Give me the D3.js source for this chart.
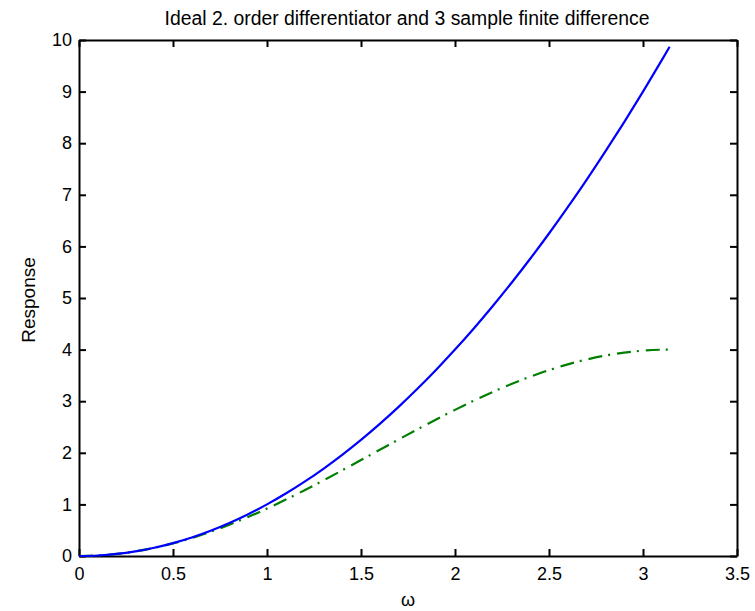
<!DOCTYPE html>
<html>
<head>
<meta charset="utf-8">
<script src="https://cdn.jsdelivr.net/npm/d3@7"></script>
<style>
  html, body { margin: 0; padding: 0; background: #fff; }
  svg text { font-family: "Liberation Sans", Arial, Helvetica, sans-serif; fill: #000; }
</style>
</head>
<body>
<svg id="chart" width="755" height="611"></svg>
<script>
// Frequency samples (rad/sample)
const omega = [0, 0.1, 0.2, 0.3, 0.4, 0.5, 0.6, 0.7, 0.8, 0.9, 1.0, 1.1, 1.2, 1.3, 1.4, 1.5,
  1.6, 1.7, 1.8, 1.9, 2.0, 2.1, 2.2, 2.3, 2.4, 2.5, 2.6, 2.7, 2.8, 2.9, 3.0, 3.1, 3.1416];
// Ideal second-order differentiator magnitude
const idealResponse = [0, 0.01, 0.04, 0.09, 0.16, 0.25, 0.36, 0.49, 0.64, 0.81, 1.00, 1.21,
  1.44, 1.69, 1.96, 2.25, 2.56, 2.89, 3.24, 3.61, 4.00, 4.41, 4.84, 5.29, 5.76, 6.25, 6.76,
  7.29, 7.84, 8.41, 9.00, 9.61, 9.87];
// Three-sample finite difference magnitude
const finiteDiffResponse = [0, 0.01, 0.04, 0.089, 0.158, 0.245, 0.349, 0.470, 0.607, 0.757,
  0.919, 1.093, 1.275, 1.465, 1.660, 1.859, 2.058, 2.258, 2.454, 2.647, 2.832, 3.010, 3.177,
  3.333, 3.475, 3.602, 3.714, 3.808, 3.885, 3.942, 3.980, 3.998, 4.0];

const xTicks = [0, 0.5, 1, 1.5, 2, 2.5, 3, 3.5];
const yTicks = [0, 1, 2, 3, 4, 5, 6, 7, 8, 9, 10];

const titleText = "Ideal 2. order differentiator and 3 sample finite difference";
const xLabel = "\u03c9";
const yLabel = "Response";

const margin = { left: 79, right: 18, top: 40, bottom: 55 };
const W = 755, H = 611;
const svg = d3.select("#chart");

const x = d3.scaleLinear().domain([0, 3.5]).range([margin.left, W - margin.right]);
const y = d3.scaleLinear().domain([0, 10]).range([H - margin.bottom, margin.top]);

const fmt = d => String(d);
const tickLen = 7;

// Axes with inward ticks on all four sides
const gx = svg.append("g").attr("transform", `translate(0,${y(0)})`)
  .call(d3.axisBottom(x).tickValues(xTicks).tickFormat(fmt).tickSizeInner(-tickLen).tickSizeOuter(0).tickPadding(11));
const gxTop = svg.append("g").attr("transform", `translate(0,${y(10)})`)
  .call(d3.axisTop(x).tickValues(xTicks).tickFormat("").tickSizeInner(-tickLen).tickSizeOuter(0));
const gy = svg.append("g").attr("transform", `translate(${x(0)},0)`)
  .call(d3.axisLeft(y).tickValues(yTicks).tickFormat(fmt).tickSizeInner(-tickLen).tickSizeOuter(0).tickPadding(7));
const gyRight = svg.append("g").attr("transform", `translate(${x(3.5)},0)`)
  .call(d3.axisRight(y).tickValues(yTicks).tickFormat("").tickSizeInner(-tickLen).tickSizeOuter(0));

[gx, gxTop, gy, gyRight].forEach(g => {
  g.select(".domain").attr("stroke", "#000").attr("stroke-width", 2);
  g.selectAll(".tick line").attr("stroke", "#000").attr("stroke-width", 2);
  g.selectAll(".tick text").attr("font-size", 18).attr("fill", "#000")
    .style("font-family", '"Liberation Sans", Arial, sans-serif');
});
gx.selectAll(".tick text").attr("dy", "0.71em");

// Curves
const line = (vals) => d3.line()
  .x((d, i) => x(omega[i]))
  .y(d => y(d))
  .curve(d3.curveMonotoneX)(vals);

svg.append("path")
  .attr("d", line(finiteDiffResponse))
  .attr("fill", "none")
  .attr("stroke", "#007f00")
  .attr("stroke-width", 2.2)
  .attr("stroke-dasharray", "14,6,2,7");

svg.append("path")
  .attr("d", line(idealResponse))
  .attr("fill", "none")
  .attr("stroke", "#0000ff")
  .attr("stroke-width", 2.2);

// Title and axis labels
svg.append("text")
  .attr("x", 407)
  .attr("y", 25)
  .attr("text-anchor", "middle")
  .attr("font-size", 20)
  .attr("textLength", 485)
  .attr("lengthAdjust", "spacingAndGlyphs")
  .text(titleText);

svg.append("text")
  .attr("x", (x(0) + x(3.5)) / 2)
  .attr("y", 606)
  .attr("text-anchor", "middle")
  .attr("font-size", 18)
  .text(xLabel);

svg.append("text")
  .attr("transform", `translate(35,${(y(0) + y(10)) / 2 + 2}) rotate(-90)`)
  .attr("text-anchor", "middle")
  .attr("font-size", 19)
  .text(yLabel);
</script>
</body>
</html>
